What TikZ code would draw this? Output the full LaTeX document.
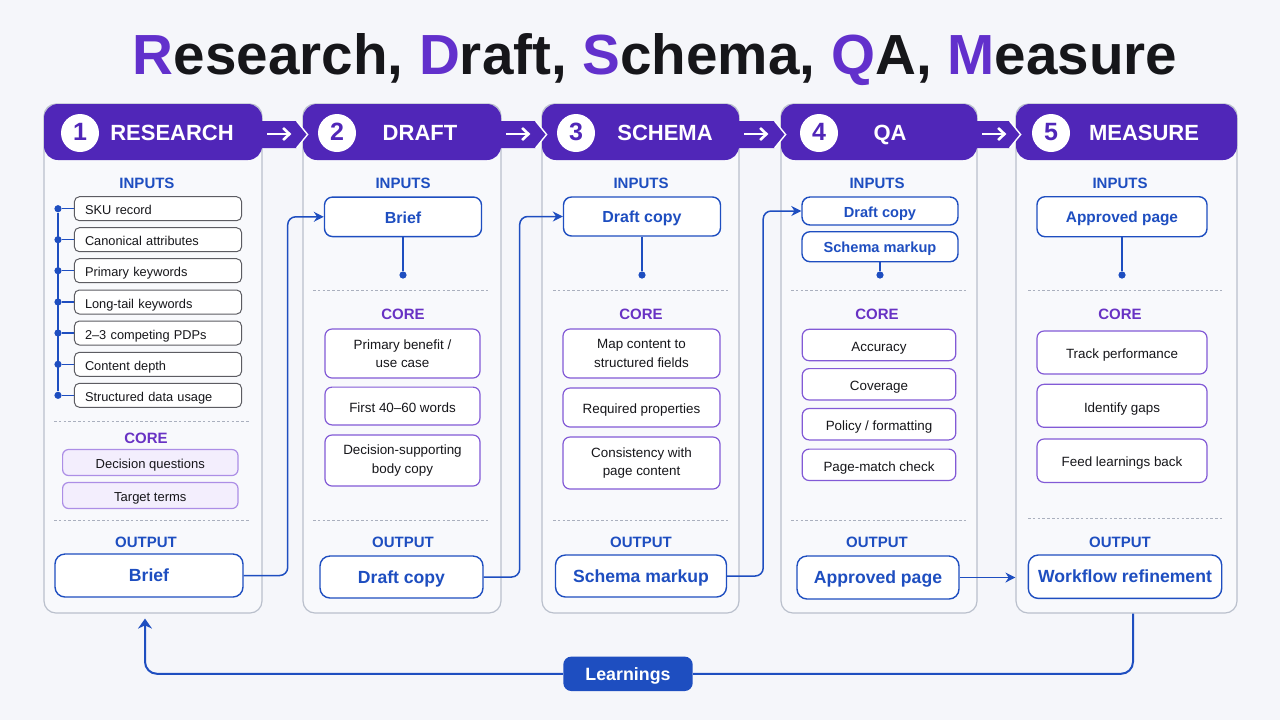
\documentclass[tikz,border=0pt]{standalone}
\usepackage{fontspec}
\setmainfont{Liberation Sans}
\usepackage{tikz}
\usetikzlibrary{arrows,arrows.meta,shapes,calc,positioning}
\definecolor{bg}{RGB}{245,246,250}
\definecolor{cardfill}{RGB}{248,249,252}
\definecolor{cardline}{RGB}{186,192,204}
\definecolor{headpurple}{RGB}{80,38,184}
\definecolor{titlepurple}{RGB}{98,48,204}
\definecolor{linkblue}{RGB}{30,78,192}
\definecolor{corepurple}{RGB}{104,50,196}
\definecolor{coreline}{RGB}{130,90,214}
\definecolor{lavline}{RGB}{172,142,230}
\definecolor{lavfill}{RGB}{243,238,253}
\definecolor{inline}{RGB}{92,92,98}
\definecolor{dashgray}{RGB}{170,176,190}
\definecolor{ink}{RGB}{22,22,26}
\tikzstyle{card}    =[draw=cardline, fill=cardfill, rounded corners=6pt,
                      line width=0.6pt, inner sep=0pt]
\tikzstyle{head}    =[fill=headpurple, rounded corners=7pt, inner sep=0pt,
                      minimum height=28pt]
\tikzstyle{num}     =[circle, fill=white, text=headpurple, minimum size=19pt,
                      inner sep=0pt, text height=0.72em, text depth=0pt,
                      font=\bfseries\fontsize{12.5}{12.5}\selectfont]
\tikzstyle{headtext}=[text=white, inner sep=0pt, text height=0.72em, text depth=0pt,
                      font=\bfseries\fontsize{11}{11}\selectfont]
\tikzstyle{sect}    =[text=linkblue, inner sep=0pt, text height=0.72em, text depth=0pt,
                      font=\bfseries\fontsize{7.5}{7.5}\selectfont]
\tikzstyle{sectcore}=[sect, text=corepurple]
\tikzstyle{inbox}   =[draw=inline, fill=white, rounded corners=2.5pt,
                      line width=0.5pt, minimum height=12pt, text width=73pt,
                      inner xsep=5.3pt, inner ysep=0pt, align=left, text=ink,
                      text height=0.72em, text depth=0.1em,
                      font=\fontsize{6.4}{7.6}\selectfont]
\tikzstyle{lavbox}  =[draw=lavline, fill=lavfill, rounded corners=3pt,
                      line width=0.6pt, minimum width=87.7pt, minimum height=13pt,
                      inner sep=0pt, text=ink, text height=0.72em, text depth=0.1em,
                      font=\fontsize{6.5}{7.6}\selectfont]
\tikzstyle{corebox} =[draw=coreline, fill=white, rounded corners=3.5pt,
                      line width=0.6pt, inner sep=0pt, align=center, text=ink,
                      font=\fontsize{6.7}{9.3}\selectfont]
\tikzstyle{onebox}  =[corebox, text height=0.72em, text depth=0.1em]
\tikzstyle{bluebox} =[draw=linkblue, fill=white, rounded corners=4pt,
                      line width=0.7pt, inner sep=0pt, text=linkblue,
                      text height=0.72em, text depth=0.1em,
                      font=\bfseries\fontsize{8}{8}\selectfont]
\tikzstyle{outbox}  =[bluebox, rounded corners=5pt,
                      font=\bfseries\fontsize{8.8}{8.8}\selectfont]
\tikzstyle{dot}     =[circle, fill=linkblue, minimum size=3.6pt, inner sep=0pt]
\tikzstyle{bus}     =[draw=linkblue, line width=0.75pt]
\tikzstyle{link}    =[draw=linkblue, line width=0.75pt, rounded corners=4pt,
                      -{Stealth[length=5pt,width=5pt]}]
\tikzstyle{backline}=[draw=linkblue, line width=1pt, rounded corners=6pt]
\tikzstyle{learn}   =[fill=linkblue, rounded corners=4pt, text=white,
                      minimum width=64.7pt, minimum height=17.2pt, inner sep=0pt,
                      text height=0.72em, text depth=0.1em,
                      font=\bfseries\fontsize{8.9}{8.9}\selectfont]
\tikzstyle{divider} =[draw=dashgray, line width=0.5pt,
                      dash pattern=on 1.3pt off 1.1pt]
\tikzstyle{headtab} =[fill=headpurple]
\tikzstyle{chevron} =[draw=white, line width=0.7pt]
\tikzstyle{tabarrow}=[draw=white, line width=1.3pt,
                      -{Straight Barb[length=3.2pt,width=6pt]}]

\begin{document}
\begin{tikzpicture}[x=0.5pt, y=-0.5pt]
    \fill[bg] (0,0) rectangle (1280,720);
    \useasboundingbox (0,0) rectangle (1280,720);

    \node[inner sep=0pt, anchor=base, text=ink,
          font=\bfseries\fontsize{28.3}{28.3}\selectfont] (title) at (655,74)
        {\textcolor{titlepurple}{R}esearch, \textcolor{titlepurple}{D}raft,
         \textcolor{titlepurple}{S}chema, \textcolor{titlepurple}{Q}A,
         \textcolor{titlepurple}{M}easure};

    \node[card, minimum width=109pt, minimum height=254.5pt] (k1) at (153,358.5) {};
    \node[card, minimum width=99pt, minimum height=254.5pt] (k2) at (402,358.5) {};
    \node[card, minimum width=98.5pt, minimum height=254.5pt] (k3) at (640.5,358.5) {};
    \node[card, minimum width=98pt, minimum height=254.5pt] (k4) at (879,358.5) {};
    \node[card, minimum width=110.5pt, minimum height=254.5pt] (k5) at (1126.5,358.5) {};

    \node[head, minimum width=109pt] (h1) at (153,132) {};
    \node[head, minimum width=99pt] (h2) at (402,132) {};
    \node[head, minimum width=98.5pt] (h3) at (640.5,132) {};
    \node[head, minimum width=98pt] (h4) at (879,132) {};
    \node[head, minimum width=110.5pt] (h5) at (1126.5,132) {};

    \fill[headtab] ($(h1.east)+(-2,-11)$) -- ($(h2.west)+(-6,-11)$) -- ($(h2.west)+(5,2.5)$)
        -- ($(h2.west)+(-6,16)$) -- ($(h1.east)+(-2,16)$) -- cycle;
    \fill[headtab] ($(h2.east)+(-2,-11)$) -- ($(h3.west)+(-6,-11)$) -- ($(h3.west)+(5,2.5)$)
        -- ($(h3.west)+(-6,16)$) -- ($(h2.east)+(-2,16)$) -- cycle;
    \fill[headtab] ($(h3.east)+(-2,-11)$) -- ($(h4.west)+(-6,-11)$) -- ($(h4.west)+(5,2.5)$)
        -- ($(h4.west)+(-6,16)$) -- ($(h3.east)+(-2,16)$) -- cycle;
    \fill[headtab] ($(h4.east)+(-2,-11)$) -- ($(h5.west)+(-6,-11)$) -- ($(h5.west)+(5,2.5)$)
        -- ($(h5.west)+(-6,16)$) -- ($(h4.east)+(-2,16)$) -- cycle;
    \draw[chevron] ($(h2.west)+(-6,-11)$) -- ($(h2.west)+(5,2.5)$) -- ($(h2.west)+(-6,16)$);
    \draw[chevron] ($(h3.west)+(-6,-11)$) -- ($(h3.west)+(5,2.5)$) -- ($(h3.west)+(-6,16)$);
    \draw[chevron] ($(h4.west)+(-6,-11)$) -- ($(h4.west)+(5,2.5)$) -- ($(h4.west)+(-6,16)$);
    \draw[chevron] ($(h5.west)+(-6,-11)$) -- ($(h5.west)+(5,2.5)$) -- ($(h5.west)+(-6,16)$);
    \draw[tabarrow] ($(h1.east)+(5,2)$) -- ($(h1.east)+(29,2)$);
    \draw[tabarrow] ($(h2.east)+(5,2)$) -- ($(h2.east)+(29,2)$);
    \draw[tabarrow] ($(h3.east)+(5,2)$) -- ($(h3.east)+(29,2)$);
    \draw[tabarrow] ($(h4.east)+(5,2)$) -- ($(h4.east)+(29,2)$);

    \node[num] (n1) at (80,133) {1};
    \node[num] (n2) at (337,133) {2};
    \node[num] (n3) at (576,133) {3};
    \node[num] (n4) at (819,133) {4};
    \node[num] (n5) at (1051,133) {5};
    \node[headtext] (t1) at (172,133) {RESEARCH};
    \node[headtext] (t2) at (420,133) {DRAFT};
    \node[headtext] (t3) at (665,133) {SCHEMA};
    \node[headtext] (t4) at (890,133) {QA};
    \node[headtext] (t5) at (1144,133) {MEASURE};

    \begin{scope}
        \node[sect] (s1) at (147,181) {INPUTS};
        \node[inbox] (i11) at (158,208.7) {SKU record};
        \node[inbox] (i12) at (158,239.7) {Canonical attributes};
        \node[inbox] (i13) at (158,270.7) {Primary keywords};
        \node[inbox] (i14) at (158,302) {Long-tail keywords};
        \node[inbox] (i15) at (158,333) {2–3 competing PDPs};
        \node[inbox] (i16) at (158,364.3) {Content depth};
        \node[inbox] (i17) at (158,395.3) {Structured data usage};
        \node[dot] (d11) at (58,208.7) {};
        \node[dot] (d12) at (58,239.7) {};
        \node[dot] (d13) at (58,270.7) {};
        \node[dot] (d14) at (58,302) {};
        \node[dot] (d15) at (58,333) {};
        \node[dot] (d16) at (58,364.3) {};
        \node[dot] (d17) at (58,395.3) {};
        \draw[bus] (d11) -- (d17);
        \draw[bus] (d11) -- (i11);
        \draw[bus] (d12) -- (i12);
        \draw[bus] (d13) -- (i13);
        \draw[bus] (d14) -- (i14);
        \draw[bus] (d15) -- (i15);
        \draw[bus] (d16) -- (i16);
        \draw[bus] (d17) -- (i17);
        \draw[divider] (54,421.5) -- (249,421.5);
        \node[sectcore] (r1) at (146,436) {CORE};
        \node[lavbox] (q11) at (150.3,462.5) {Decision questions};
        \node[lavbox] (q12) at (150.3,495.5) {Target terms};
        \draw[divider] (54,520) -- (249,520);
        \node[sect] (u1) at (146,540.5) {OUTPUT};
        \node[outbox, minimum width=94pt, minimum height=21.5pt] (o1) at (149,575.5) {Brief};
    \end{scope}

    \begin{scope}
        \node[sect] (s2) at (403,181) {INPUTS};
        \node[bluebox, minimum width=78.5pt, minimum height=19.75pt] (i2) at (403,216.8) {Brief};
        \node[dot] (e2) at (403,275) {};
        \draw[bus] (i2) -- (e2);
        \draw[divider] (313,290.5) -- (489,290.5);
        \node[sectcore] (r2) at (403,312) {CORE};
        \node[corebox, minimum width=77.5pt, minimum height=24.5pt] (p21) at (402.5,353.5)
            {Primary benefit /\\use case};
        \node[onebox, minimum width=77.5pt, minimum height=18.9pt] (p22) at (402.5,406)
            {First 40–60 words};
        \node[corebox, minimum width=77.5pt, minimum height=25.5pt] (p23) at (402.5,460.5)
            {Decision-supporting\\body copy};
        \draw[divider] (313,520) -- (489,520);
        \node[sect] (u2) at (403,540.5) {OUTPUT};
        \node[outbox, minimum width=81.5pt, minimum height=21pt] (o2) at (401.5,577) {Draft copy};
    \end{scope}

    \begin{scope}
        \node[sect] (s3) at (641,181) {INPUTS};
        \node[bluebox, minimum width=78.5pt, minimum height=19.5pt] (i3) at (642,216.5) {Draft copy};
        \node[dot] (e3) at (642,275) {};
        \draw[bus] (i3) -- (e3);
        \draw[divider] (553,290.5) -- (729,290.5);
        \node[sectcore] (r3) at (641,312) {CORE};
        \node[corebox, minimum width=78.5pt, minimum height=24.5pt] (p31) at (641.5,353.5)
            {Map content to\\structured fields};
        \node[onebox, minimum width=78.5pt, minimum height=19.5pt] (p32) at (641.5,407.5)
            {Required properties};
        \node[corebox, minimum width=78.5pt, minimum height=26pt] (p33) at (641.5,463)
            {Consistency with\\page content};
        \draw[divider] (553,520) -- (729,520);
        \node[sect] (u3) at (641,540.5) {OUTPUT};
        \node[outbox, minimum width=85.5pt, minimum height=21pt] (o3) at (641,576) {Schema markup};
    \end{scope}

    \begin{scope}
        \node[sect] (s4) at (877,181) {INPUTS};
        \node[bluebox, minimum width=78pt, minimum height=14pt,
              font=\bfseries\fontsize{7.3}{7.3}\selectfont] (i41) at (880,211) {Draft copy};
        \node[bluebox, minimum width=78pt, minimum height=15pt,
              font=\bfseries\fontsize{7.3}{7.3}\selectfont] (i42) at (880,246.7) {Schema markup};
        \node[dot] (e4) at (880,275) {};
        \draw[bus] (i42) -- (e4);
        \draw[divider] (791,290.5) -- (966,290.5);
        \node[sectcore] (r4) at (877,312) {CORE};
        \node[onebox, minimum width=76.8pt, minimum height=15.7pt] (p41) at (879,345) {Accuracy};
        \node[onebox, minimum width=76.8pt, minimum height=15.7pt] (p42) at (879,384.3) {Coverage};
        \node[onebox, minimum width=76.8pt, minimum height=15.7pt] (p43) at (879,424.2)
            {Policy / formatting};
        \node[onebox, minimum width=76.8pt, minimum height=15.7pt] (p44) at (879,464.8)
            {Page-match check};
        \draw[divider] (791,520) -- (966,520);
        \node[sect] (u4) at (877,540.5) {OUTPUT};
        \node[outbox, minimum width=81pt, minimum height=21.5pt] (o4) at (878,577.5) {Approved page};
    \end{scope}

    \begin{scope}
        \node[sect] (s5) at (1120,181) {INPUTS};
        \node[bluebox, minimum width=85pt, minimum height=20pt,
              font=\bfseries\fontsize{7.7}{7.7}\selectfont] (i5) at (1122,216.7) {Approved page};
        \node[dot] (e5) at (1122,275) {};
        \draw[bus] (i5) -- (e5);
        \draw[divider] (1028,290.5) -- (1222,290.5);
        \node[sectcore] (r5) at (1120,312) {CORE};
        \node[onebox, minimum width=85pt, minimum height=21.5pt] (p51) at (1122,352.5)
            {Track performance};
        \node[onebox, minimum width=85pt, minimum height=21.5pt] (p52) at (1122,405.8)
            {Identify gaps};
        \node[onebox, minimum width=85pt, minimum height=21.7pt] (p53) at (1122,460.7)
            {Feed learnings back};
        \draw[divider] (1028,518.5) -- (1222,518.5);
        \node[sect] (u5) at (1120,540.5) {OUTPUT};
        \node[outbox, minimum width=96.7pt, minimum height=21.7pt] (o5) at (1125,576.7)
            {Workflow refinement};
    \end{scope}

    \draw[link] (o1.east) -- ++(44,0) |- (i2.west);
    \draw[link] (o2.east) -- ++(36,0) |- (i3.west);
    \draw[link] (o3.east) -- ++(36,0) |- (i41.west);
    \draw[link] (o4.east) -- (o4.east -| k5.west);

    \node[learn] (lrn) at (628,673.8) {Learnings};
    \draw[backline] ([xshift=3.25pt]k5.south) |- (lrn.east);
    \draw[backline, -{Stealth[length=5pt,width=7pt]}] (lrn.west) -| ([xshift=-4pt,yshift=-2.5pt]k1.south);
\end{tikzpicture}
\end{document}
